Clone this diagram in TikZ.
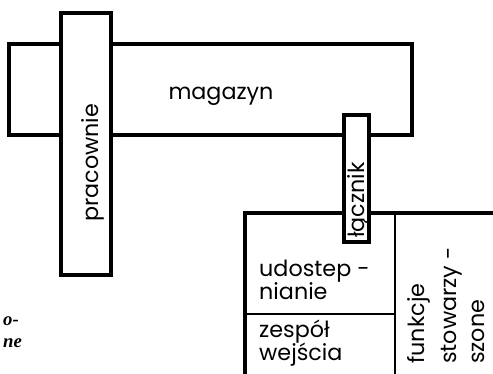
\documentclass[tikz,border=0pt]{standalone}
\usepackage{fontspec}
\setmainfont{Poppins}
\newfontfamily\notefont{Liberation Serif}
\usetikzlibrary{positioning}

\begin{document}
\begin{tikzpicture}[x=0.03cm, y=-0.03cm,
  wall/.style={draw, line width=2.6pt, fill=white, inner sep=0pt},
  part/.style={line width=1.4pt},
  lbl/.style={font=\fontsize{19}{22}\selectfont, inner sep=0pt},
  note/.style={font=\notefont\itshape\bfseries\fontsize{16}{18}\selectfont, inner sep=0pt}
]
\useasboundingbox (0,0) rectangle (493,374);
\clip (0,0) rectangle (493,374);

% magazyn
\node[wall, minimum width=12.09cm, minimum height=2.73cm] (mag) at (210.5,89.5) {};
\node[lbl, anchor=base] (magtxt) at (221,100) {magazyn};

% lower block, open to the right and bottom
\coordinate (lowtr) at (493,213);
\coordinate (lowtl) at (245,213);
\coordinate (lowbl) at (245,374);
\draw[line width=2.6pt] (lowtr) -- (lowtl) -- (lowbl);
\coordinate (divtop) at (395,213);
\coordinate (divbot) at (395,374);
\coordinate (midl) at (245,314);
\coordinate (midr) at (395,314);
\draw[part] (divtop) -- (divbot);
\draw[part] (midl) -- (midr);

\node[lbl, anchor=base west] (udo) at (259,277) {udostep -};
\node[lbl, anchor=base west] (nia) at (259,300) {nianie};
\node[lbl, anchor=base west] (zes) at (259,338) {zespół};
\node[lbl, anchor=base west] (wej) at (259,361) {wejścia};

\node[lbl, anchor=base west, rotate=90] (funk) at (424,364) {funkcje};
\node[lbl, anchor=base west, rotate=90] (stow) at (456,364) {stowarzy -};
\node[lbl, anchor=base west, rotate=90] (szon) at (484,364) {szone};

% pracownie
\node[wall, minimum width=1.5cm, minimum height=7.86cm] (prac) at (86,144) {};
\node[lbl, anchor=base west, rotate=90] (practxt) at (98,222) {pracownie};

% łącznik
\node[wall, minimum width=0.75cm, minimum height=3.81cm] (lacz) at (356.5,178.5) {};
\node[lbl, anchor=base west, rotate=90] (lacztxt) at (364,238) {łącznik};

% caption fragments at the left edge
\node[note, anchor=base west] (cap1) at (3,326) {o-};
\node[note, anchor=base west] (cap2) at (3,348) {ne};
\end{tikzpicture}
\end{document}
